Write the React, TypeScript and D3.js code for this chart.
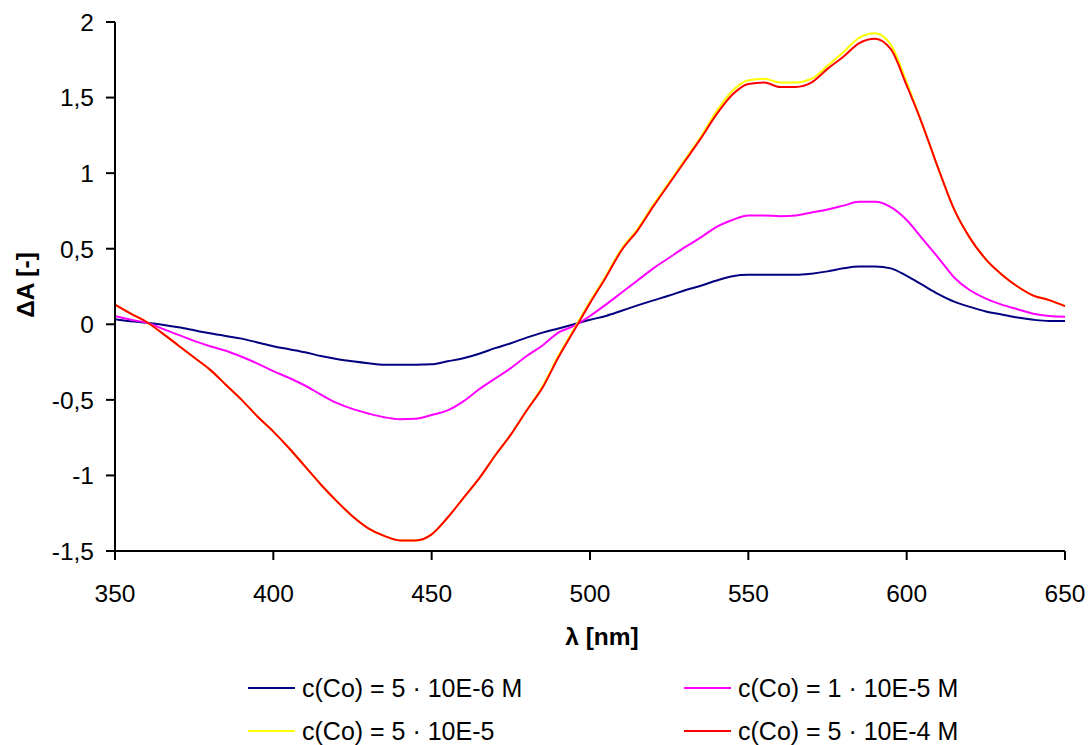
import React from "react";
import * as d3 from "d3";

const wavelengths = [
  350, 355, 360, 365, 370, 375, 380, 385, 390, 395, 400, 405, 410, 415, 420, 425, 430, 435, 440, 445,
  450, 455, 460, 465, 470, 475, 480, 485, 490, 495, 500, 505, 510, 515, 520, 525, 530, 535, 540, 545,
  550, 555, 560, 565, 570, 575, 580, 585, 590, 595, 600, 605, 610, 615, 620, 625, 630, 635, 640, 645, 650,
];

const seriesNavy = [
  0.034, 0.02, 0.01, -0.003, -0.02, -0.04, -0.06, -0.078, -0.095, -0.12, -0.145, -0.165, -0.185, -0.21, -0.23, -0.245, -0.258, -0.268, -0.268, -0.268,
  -0.265, -0.245, -0.225, -0.195, -0.158, -0.125, -0.088, -0.055, -0.028, 0.0, 0.03, 0.055, 0.09, 0.125, 0.158, 0.19, 0.225, 0.255, 0.29, 0.318,
  0.327, 0.327, 0.327, 0.327, 0.335, 0.35, 0.37, 0.382, 0.382, 0.37, 0.32, 0.26, 0.2, 0.15, 0.115, 0.085, 0.065, 0.045, 0.03, 0.022, 0.022,
];

const seriesPink = [
  0.055, 0.03, 0.01, -0.03, -0.07, -0.11, -0.145, -0.175, -0.215, -0.26, -0.31, -0.355, -0.405, -0.465, -0.52, -0.56, -0.59, -0.615, -0.628, -0.625,
  -0.6, -0.57, -0.51, -0.43, -0.36, -0.29, -0.21, -0.14, -0.055, -0.01, 0.055, 0.13, 0.21, 0.29, 0.37, 0.44, 0.51, 0.575, 0.645, 0.69,
  0.72, 0.72, 0.715, 0.72, 0.74, 0.76, 0.785, 0.81, 0.81, 0.775, 0.69, 0.565, 0.44, 0.31, 0.225, 0.17, 0.13, 0.1, 0.07, 0.055, 0.05,
];

const seriesYellow = [
  0.13, 0.07, 0.015, -0.06, -0.14, -0.22, -0.3, -0.4, -0.5, -0.61, -0.71, -0.82, -0.94, -1.06, -1.17, -1.27, -1.35, -1.4, -1.43, -1.43,
  -1.39, -1.28, -1.15, -1.02, -0.87, -0.73, -0.57, -0.41, -0.21, -0.03, 0.15, 0.32, 0.5, 0.63, 0.79, 0.94, 1.09, 1.24, 1.41, 1.545,
  1.615, 1.625, 1.6, 1.6, 1.625, 1.71, 1.8, 1.895, 1.925, 1.85, 1.6, 1.32, 1.03, 0.76, 0.57, 0.43, 0.33, 0.25, 0.19, 0.16, 0.12,
];

const seriesRed = [
  0.13, 0.07, 0.015, -0.06, -0.14, -0.22, -0.3, -0.4, -0.5, -0.61, -0.71, -0.82, -0.94, -1.06, -1.17, -1.27, -1.35, -1.4, -1.43, -1.43,
  -1.39, -1.28, -1.15, -1.02, -0.87, -0.73, -0.57, -0.42, -0.22, -0.04, 0.14, 0.31, 0.49, 0.62, 0.78, 0.93, 1.08, 1.23, 1.39, 1.52,
  1.59, 1.6, 1.57, 1.57, 1.6, 1.69, 1.77, 1.86, 1.89, 1.82, 1.58, 1.32, 1.03, 0.76, 0.57, 0.43, 0.33, 0.25, 0.19, 0.16, 0.12,
];

const xTicks = [350, 400, 450, 500, 550, 600, 650];
const yTicks = [-1.5, -1, -0.5, 0, 0.5, 1, 1.5, 2];

const seriesLabels = [
  "c(Co) = 5 · 10E-6 M",
  "c(Co) = 1 · 10E-5 M",
  "c(Co) = 5 · 10E-5",
  "c(Co) = 5 · 10E-4 M",
];
const seriesColors = ["#000080", "#FF00FF", "#FFFF00", "#FF0000"];

export default function App() {
  const W = 1091;
  const H = 745;
  const x = d3.scaleLinear().domain([350, 650]).range([115, 1065]);
  const y = d3.scaleLinear().domain([-1.5, 2]).range([551, 22]);
  const allSeries = [seriesNavy, seriesPink, seriesYellow, seriesRed];
  const line = d3
    .line<number>()
    .x((_, i) => x(wavelengths[i]))
    .y((d) => y(d))
    .curve(d3.curveMonotoneX);
  const fmt = (v: number) => String(v).replace(".", ",");
  const font = "'Liberation Sans', Arial, sans-serif";

  const legendPos = [
    { lx: 248, ly: 688 },
    { lx: 684, ly: 688 },
    { lx: 248, ly: 731 },
    { lx: 684, ly: 731 },
  ];

  return (
    <svg
      width={W}
      height={H}
      style={{ position: "absolute", left: 0, top: 0, background: "#fff" }}
      fontFamily={font}
    >
      <rect x={0} y={0} width={W} height={H} fill="#fff" />
      {allSeries.map((s, i) => (
        <path key={i} d={line(s) || ""} fill="none" stroke={seriesColors[i]} strokeWidth={2} />
      ))}
      {/* axes */}
      <line x1={115} y1={y(-1.5)} x2={115} y2={y(2)} stroke="#000" strokeWidth={2} />
      <line x1={x(350)} y1={551} x2={x(650)} y2={551} stroke="#000" strokeWidth={2} />
      {yTicks.map((t) => (
        <g key={"y" + t}>
          <line x1={106} x2={115} y1={y(t)} y2={y(t)} stroke="#000" strokeWidth={2} />
          <text x={94} y={y(t)} dy="0.36em" textAnchor="end" fontSize={24.5} fill="#000">
            {fmt(t)}
          </text>
        </g>
      ))}
      {xTicks.map((t) => (
        <g key={"x" + t}>
          <line x1={x(t)} x2={x(t)} y1={551} y2={560} stroke="#000" strokeWidth={2} />
          <text x={x(t)} y={602} textAnchor="middle" fontSize={24.5} fill="#000">
            {t}
          </text>
        </g>
      ))}
      <text x={602} y={645} textAnchor="middle" fontSize={24.5} fontWeight="bold" fill="#000">
        λ [nm]
      </text>
      <text
        transform="translate(34,285) rotate(-90)"
        textAnchor="middle"
        fontSize={24.5}
        fontWeight="bold"
        fill="#000"
      >
        ΔA [-]
      </text>
      {seriesLabels.map((lab, i) => (
        <g key={"l" + i}>
          <line
            x1={legendPos[i].lx}
            x2={legendPos[i].lx + 47}
            y1={legendPos[i].ly}
            y2={legendPos[i].ly}
            stroke={seriesColors[i]}
            strokeWidth={2}
          />
          <text x={legendPos[i].lx + 54} y={legendPos[i].ly + 9} fontSize={25} fill="#000">
            {lab}
          </text>
        </g>
      ))}
    </svg>
  );
}
